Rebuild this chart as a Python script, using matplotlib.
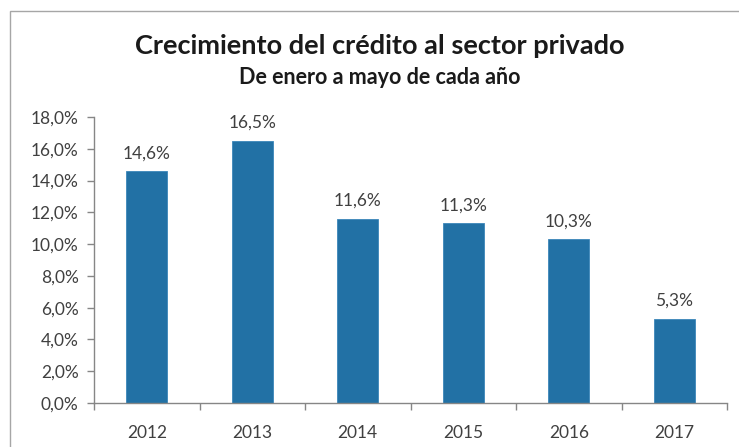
import matplotlib
matplotlib.use("Agg")
import matplotlib.pyplot as plt
from matplotlib.patches import Rectangle
from matplotlib.ticker import FuncFormatter, FixedLocator, NullFormatter

years = ["2012", "2013", "2014", "2015", "2016", "2017"]
values = [14.6, 16.5, 11.6, 11.3, 10.3, 5.3]
title = "Crecimiento del crédito al sector privado"
subtitle = "De enero a mayo de cada año"

plt.rcParams['font.family'] = ['Lato', 'DejaVu Sans']

W, H = 739, 447
fig = plt.figure(figsize=(W / 100, H / 100), dpi=100)
fig.patch.set_facecolor("white")

# chart border (only top and left visible, cropped)
fig.patches.append(Rectangle((10 / W, -0.2), 1.2, 1.2 - 11 / H,
                             transform=fig.transFigure, fill=False,
                             edgecolor="#A6A6A6", linewidth=1.0))

ax = fig.add_axes([94 / W, 1 - 403 / H, (727 - 94) / W, (403 - 117) / H])
x = list(range(len(years)))
bar_color = "#2271A5"
ax.bar(x, [v / 100 for v in values], width=0.39, color=bar_color,
       edgecolor="#3C87BA", linewidth=0.6)

for xi, v in zip(x, values):
    ax.annotate(f"{v:.1f}%".replace(".", ","), (xi, v / 100),
                xytext=(0, 7), textcoords="offset points",
                ha="center", va="bottom", fontsize=12.5, color="#404040")

ax.set_xlim(-0.5, len(years) - 0.5)
ax.set_ylim(0, 0.18)
ax.set_yticks([i / 100 for i in range(0, 19, 2)])
ax.yaxis.set_major_formatter(FuncFormatter(lambda v, p: f"{v*100:.1f}%".replace(".", ",")))

ax.xaxis.set_major_locator(FixedLocator([i - 0.5 for i in range(len(years) + 1)]))
ax.xaxis.set_major_formatter(NullFormatter())
ax.xaxis.set_minor_locator(FixedLocator(x))
ax.set_xticklabels(years, minor=True)
ax.tick_params(axis="x", which="minor", length=0, pad=16, labelsize=12.5, labelcolor="#404040")
ax.tick_params(axis="x", which="major", length=5, width=1, color="#868686", direction="out")
ax.tick_params(axis="y", length=5, width=1, color="#868686", direction="out",
               labelsize=12.5, labelcolor="#404040", pad=6)

for s in ["top", "right"]:
    ax.spines[s].set_visible(False)
for s in ["left", "bottom"]:
    ax.spines[s].set_color("#868686")
    ax.spines[s].set_linewidth(1)

fig.text(380 / W, 1 - 46 / H, title, ha="center", va="center",
         fontsize=19.5, fontweight="bold", color="#1a1a1a")
fig.text(380 / W, 1 - 78 / H, subtitle, ha="center", va="center",
         fontsize=15.5, fontweight="bold", color="#1a1a1a")

fig.savefig("out.png", dpi=100, facecolor="white")
